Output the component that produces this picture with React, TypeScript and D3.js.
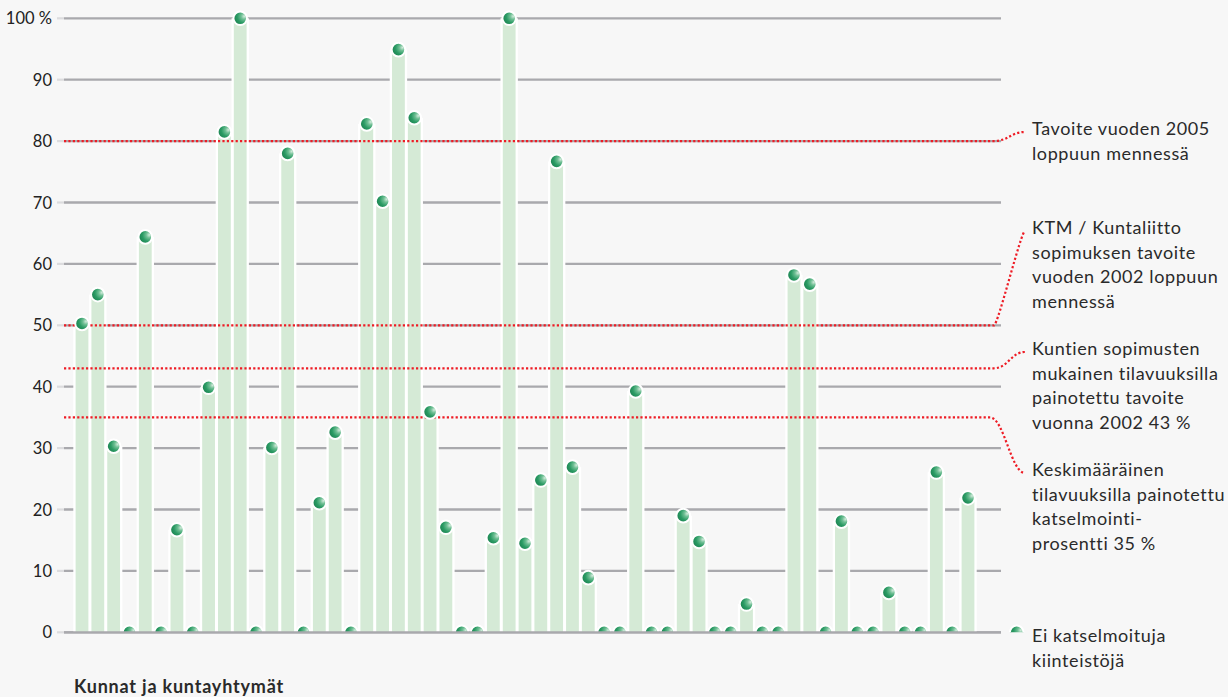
import React from "react";
import * as d3 from "d3";

// Share of inspected properties per municipality / joint authority (%)
const values: number[] = [
  50.3, 55.0, 30.3, 0, 64.4, 0, 16.7, 0, 39.9, 81.5, 100, 0, 30.1, 78.0, 0, 21.1,
  32.6, 0, 82.8, 70.2, 94.9, 83.8, 35.9, 17.1, 0, 0, 15.4, 100, 14.5, 24.8, 76.7,
  26.9, 8.9, 0, 0, 39.3, 0, 0, 19.0, 14.8, 0, 0, 4.6, 0, 0, 58.2, 56.7, 0, 18.1,
  0, 0, 6.5, 0, 0, 26.1, 0, 21.9,
];
const categories: string[] = values.map((_, i) => `k${i + 1}`);

const yTicks: number[] = [0, 10, 20, 30, 40, 50, 60, 70, 80, 90, 100];

// Reference levels and their explanations
const refValues: number[] = [80, 50, 43, 35];
const refLabels: string[][] = [
  ["Tavoite vuoden 2005", "loppuun mennessä"],
  ["KTM / Kuntaliitto", "sopimuksen tavoite", "vuoden 2002 loppuun", "mennessä"],
  ["Kuntien sopimusten", "mukainen tilavuuksilla", "painotettu tavoite", "vuonna 2002 43 %"],
  ["Keskimääräinen", "tilavuuksilla painotettu", "katselmointi-", "prosentti 35 %"],
];
const refLabelTop: number[] = [135, 234, 355, 476];
const zeroLabel: string[] = ["Ei katselmoituja", "kiinteistöjä"];
const xTitle = "Kunnat ja kuntayhtymät";

const W = 1228;
const H = 697;
const FONT = "Lato, 'Open Sans', sans-serif";
const LINE_H = 24.6;

export default function App() {
  const y = d3.scaleLinear().domain([0, 100]).range([632.3, 18.3]);
  const x = d3.scalePoint<string>().domain(categories).range([82, 968]);
  const barW = 12.8;
  const gridX0 = 64;
  const gridX1 = 1001;
  const labelX = 1032;
  const y0 = y(0);

  const connector = (v: number, i: number) => {
    const yv = y(v);
    const yt = refLabelTop[i] - 3;
    const xe = i === 3 ? 990 : 994;
    const tx = 1025;
    const p = d3.path();
    p.moveTo(gridX0, yv);
    p.lineTo(xe, yv);
    if (i === 1) {
      p.bezierCurveTo(xe + 4, yv, tx - 4, yt, tx, yt);
    } else {
      p.bezierCurveTo(xe + 14, yv, tx - 14, yt, tx, yt);
    }
    return p.toString();
  };

  return (
    <svg
      width={W}
      height={H}
      style={{ position: "absolute", left: 0, top: 0, display: "block", background: "#f7f7f7" }}
      fontFamily={FONT}
    >
      <defs>
        <radialGradient id="ball" cx="0.72" cy="0.38" r="0.85" fx="0.8" fy="0.35">
          <stop offset="0" stopColor="#d4ecdd" />
          <stop offset="0.25" stopColor="#6fbf94" />
          <stop offset="0.55" stopColor="#2b9b64" />
          <stop offset="1" stopColor="#157749" />
        </radialGradient>
        <clipPath id="plotClip">
          <rect x={0} y={0} width={W} height={y0} />
        </clipPath>
      </defs>
      <rect x={0} y={0} width={W} height={H} fill="#f7f7f7" />

      {/* horizontal gridlines */}
      {yTicks.map((t) => (
        <g key={t}>
          <line x1={57} x2={gridX0} y1={y(t)} y2={y(t)} stroke="#dcdcde" strokeWidth={2.2} />
          <line x1={gridX0} x2={gridX1} y1={y(t)} y2={y(t)} stroke="#a9a9ad" strokeWidth={2.3} />
          <text
            x={52}
            y={y(t) + 6}
            textAnchor="end"
            fontSize={16.5}
            fill="#222"
          >
            {t === 100 ? "100 %" : t}
          </text>
        </g>
      ))}

      {/* bars */}
      <g clipPath="url(#plotClip)">
        {values.map((v, i) =>
          v > 0 ? (
            <rect
              key={`w${i}`}
              x={(x(categories[i]) as number) - barW / 2 - 2.3}
              y={y(v)}
              width={barW + 4.6}
              height={y0 - y(v) + 2}
              fill="#ffffff"
            />
          ) : null
        )}
        {values.map((v, i) =>
          v > 0 ? (
            <rect
              key={`b${i}`}
              x={(x(categories[i]) as number) - barW / 2}
              y={y(v)}
              width={barW}
              height={y0 - y(v) + 2}
              fill="#d5ead6"
            />
          ) : null
        )}
      </g>

      {/* reference levels */}
      {refValues.map((v, i) => (
        <path
          key={`r${i}`}
          d={connector(v, i)}
          fill="none"
          stroke="#ee1c25"
          strokeWidth={2.2}
          strokeDasharray="2.2 2.2"
        />
      ))}

      {/* markers */}
      <g clipPath="url(#plotClip)">
        {values.map((v, i) => (
          <circle
            key={`m${i}`}
            cx={x(categories[i]) as number}
            cy={y(v)}
            r={6.8}
            fill="url(#ball)"
            stroke="#ffffff"
            strokeWidth={2}
          />
        ))}
        <circle cx={1016.7} cy={y0} r={6.8} fill="url(#ball)" stroke="#ffffff" strokeWidth={2} />
      </g>

      {/* zero axis on top */}
      <line x1={gridX0} x2={gridX1} y1={y0} y2={y0} stroke="#a9a9ad" strokeWidth={2.3} />

      {/* annotation texts */}
      {refLabels.map((lines, i) => (
        <text key={`t${i}`} x={labelX} y={refLabelTop[i]} fontSize={18} letterSpacing={0.6} fill="#2a2a2a">
          {lines.map((s, j) => (
            <tspan key={j} x={labelX} y={refLabelTop[i] + j * LINE_H}>
              {s}
            </tspan>
          ))}
        </text>
      ))}
      <text x={labelX} y={642} fontSize={18} letterSpacing={0.6} fill="#2a2a2a">
        {zeroLabel.map((s, j) => (
          <tspan key={j} x={labelX} y={642 + j * LINE_H}>
            {s}
          </tspan>
        ))}
      </text>

      <text x={74} y={693} fontSize={18} letterSpacing={0.8} fontWeight="bold" fill="#2a2a2a">
        {xTitle}
      </text>
    </svg>
  );
}
